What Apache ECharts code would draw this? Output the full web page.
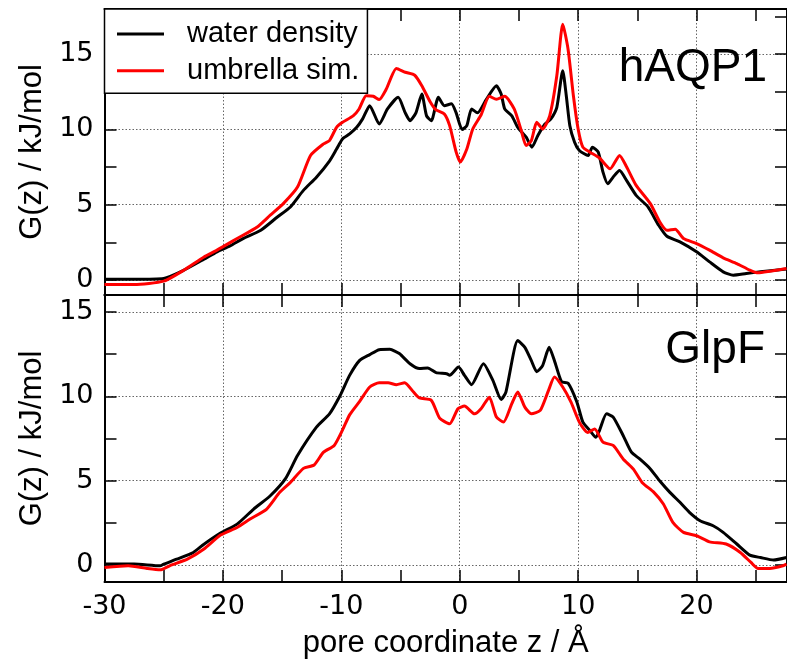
<!DOCTYPE html>
<html>
<head>
<meta charset="utf-8">
<script src="https://cdn.jsdelivr.net/npm/echarts@6/dist/echarts.min.js"></script>
<style>
html,body{margin:0;padding:0;background:#fff;}
#chart{width:787px;height:668px;}
</style>
</head>
<body>
<div id="chart"></div>
<script>
// ---- data ----
const zTopWater = [-30,-27.5,-25,-23.3,-21.6,-20.5,-19.4,-18.3,-16.8,-15.4,-14.3,-13.2,-12.1,-11.0,-10.4,-9.9,-9.3,-8.7,-8.2,-7.6,-6.8,-6.1,-5.2,-4.6,-4.2,-3.7,-3.2,-2.8,-2.4,-1.8,-1.3,-0.7,-0.3,0.2,0.6,1.0,1.5,2.25,3.1,3.5,3.8,4.4,4.9,5.6,6.1,6.6,7.2,7.7,8.2,8.7,9.0,9.3,9.7,10.1,10.85,11.2,11.7,12.1,12.5,12.95,13.5,14.1,14.9,15.9,16.8,17.5,18.6,20.0,21.1,22.25,23.1,24.2,25.4,27.6];
const gTopWater = [0.05,0.05,0.1,0.65,1.38,1.87,2.26,2.75,3.3,4.18,4.85,5.95,6.83,7.9,8.7,9.37,9.7,10.14,10.7,11.58,10.36,11.36,12.13,11.1,10.58,11.1,12.35,10.9,10.58,12.13,11.58,11.7,11.1,9.99,10.25,11.36,11.1,12.0,12.9,12.35,11.36,10.9,10.14,9.5,8.82,9.6,10.36,10.7,11.47,13.9,12.24,10.25,9.15,8.6,8.27,8.82,8.49,7.16,6.39,6.83,7.27,6.6,5.62,4.85,3.63,2.9,2.53,1.87,1.2,0.54,0.32,0.43,0.54,0.72];

const zTopUmb = [-30,-27.5,-25,-23.3,-21.6,-20.5,-18.8,-17.1,-16.0,-14.9,-13.7,-12.6,-11.5,-11.0,-10.4,-9.9,-9.0,-8.5,-7.9,-7.3,-6.8,-6.2,-5.35,-4.6,-3.8,-3.2,-2.5,-2.0,-1.3,-0.85,-0.3,0.05,0.6,1.1,1.8,2.5,3.1,3.8,4.6,5.2,5.6,6.05,6.5,7.0,7.6,8.2,8.7,9.15,9.6,10.0,10.4,11.0,11.8,12.7,13.5,14.1,14.9,16.1,16.9,17.5,18.2,18.9,20.0,21.1,22.25,23.4,24.5,25.2,26.2,27.6];
const gTopUmb = [-0.3,-0.3,-0.08,0.65,1.53,1.98,2.75,3.52,4.3,5.07,6.17,8.27,9.04,9.26,10.14,10.47,10.9,11.36,12.24,12.2,11.98,12.68,14.05,13.8,13.6,12.9,11.84,11.3,11.03,10.25,8.49,7.83,8.7,10.03,10.96,12.2,12.0,12.2,11.36,9.92,8.93,9.26,10.47,10.03,10.9,13.56,16.99,15.33,12.24,10.03,8.82,8.49,8.1,7.38,8.27,7.5,6.28,5.07,3.85,3.3,3.37,2.75,2.42,1.98,1.47,1.09,0.65,0.47,0.58,0.76];

const zBotWater = [-30,-27.5,-25.3,-25.0,-23.9,-22.5,-21.6,-20.2,-18.8,-17.4,-16.0,-14.7,-13.7,-12.1,-11.0,-10.1,-9.3,-8.45,-7.6,-6.8,-5.9,-5.1,-4.2,-3.4,-2.7,-2.0,-1.1,-0.85,-0.1,0.4,1.0,2.0,2.8,3.5,3.9,4.9,5.5,6.05,6.5,7.0,7.55,8.0,8.6,9.15,9.9,10.4,11.0,11.5,11.8,12.4,12.96,13.8,14.5,15.2,16.1,16.9,17.75,18.6,19.4,20.3,21.4,22.25,23.4,24.5,25.4,26.5,27.6];
const gBotWater = [0.06,0.06,-0.04,0.06,0.35,0.75,1.24,1.9,2.43,3.32,4.11,5.14,6.49,8.17,8.96,10.05,11.24,12.13,12.47,12.76,12.78,12.53,11.93,11.64,11.68,11.4,11.34,11.24,11.73,11.24,10.69,11.93,10.94,9.81,10.25,13.3,12.9,12.11,11.46,11.82,12.9,12.11,10.86,10.78,9.65,8.47,7.97,7.57,7.97,8.96,8.77,7.68,6.69,6.29,5.7,4.98,4.31,3.72,3.13,2.63,2.33,1.94,1.25,0.59,0.45,0.3,0.45];

const zBotUmb = [-30,-28,-26.4,-25.3,-24.5,-23.0,-21.6,-20.2,-18.8,-17.7,-16.3,-15.2,-14.3,-13.2,-12.3,-11.5,-10.6,-9.9,-9.3,-8.45,-7.6,-6.8,-6.05,-5.35,-4.65,-3.9,-3.4,-2.4,-1.7,-0.85,-0.15,0.4,1.25,1.8,2.5,3.1,3.7,4.4,4.9,5.5,6.05,6.8,7.5,8.0,8.7,9.4,10.1,10.8,11.4,12.1,12.96,13.8,14.65,15.4,16.4,17.2,18.0,18.9,20.0,21.1,22.5,23.7,24.6,25.2,26.2,27.3,27.6];
const gBotUmb = [-0.14,-0.04,-0.2,-0.28,-0.04,0.35,0.95,1.78,2.23,2.73,3.32,4.31,4.9,5.73,5.93,6.69,7.09,8.0,8.9,9.7,10.55,10.8,10.8,10.69,10.8,10.25,9.9,9.76,8.71,8.37,9.26,9.42,8.96,9.26,9.95,8.77,8.47,9.56,10.25,9.36,8.96,9.16,10.35,11.14,10.55,9.65,8.47,7.86,8.06,7.28,7.09,6.29,5.7,4.9,4.31,3.62,2.53,1.94,1.74,1.38,1.25,0.75,0.16,-0.2,-0.2,-0.04,0.06];

const seriesNames = ['water density', 'umbrella sim.'];
const panelNames = ['hAQP1', 'GlpF'];
const xTicks = [-30,-25,-20,-15,-10,-5,0,5,10,15,20,25];
const xLabels = [-30,-20,-10,0,10,20];
const xGrid = [-20,-10,0,10,20];
const yTicksTop = [0,2.5,5,7.5,10,12.5,15,17.5];
const yTicksBot = [0,2.5,5,7.5,10,12.5,15];
const yLabels = [0,5,10,15];
const yGrid = [0,5,10,15];
const xRange = [-30, 27.64];
const yRangeTop = [-1, 18];
const yRangeBot = [-1, 16];
const yTitle = 'G(z) / kJ/mol';
const xTitle = 'pore coordinate z / Å';

// ---- helpers ----
const pairs = (xs, ys) => xs.map((x, i) => [x, ys[i]]);
const SANS = '"Liberation Sans", Arial, Helvetica, sans-serif';
const TICKFONT = '"DejaVu Sans", sans-serif';
const gridDot = { show: true, lineStyle: { color: '#666', width: 1, type: [1.5, 2] } };

function xAxes(gi, withLabels) {
  const base = { type: 'value', gridIndex: gi, min: xRange[0], max: xRange[1] };
  return [
    Object.assign({}, base, {
      position: 'bottom',
      axisLine: { show: true, onZero: false, lineStyle: { color: '#000', width: 2 } },
      axisTick: { show: true, inside: true, length: 12, customValues: xTicks, lineStyle: { color: '#000', width: 1.5 } },
      axisLabel: withLabels ? { show: true, customValues: xLabels, color: '#000', fontSize: 27, fontFamily: TICKFONT, margin: 11 } : { show: false },
      splitLine: { show: false },
      name: withLabels ? xTitle : '',
      nameLocation: 'middle', nameGap: 46,
      nameTextStyle: { color: '#000', fontSize: 31, fontFamily: SANS }
    }),
    Object.assign({}, base, {
      position: 'top',
      axisLine: { show: true, onZero: false, lineStyle: { color: '#000', width: 2 } },
      axisTick: { show: true, inside: true, length: 12, customValues: xTicks, lineStyle: { color: '#000', width: 1.5 } },
      axisLabel: { show: false },
      splitLine: { show: false }
    }),
    Object.assign({}, base, {
      position: 'bottom',
      axisLine: { show: false },
      axisTick: { show: false, customValues: xGrid },
      axisLabel: { show: false },
      splitLine: gridDot
    })
  ];
}
function yAxes(gi, range, ticks) {
  const base = { type: 'value', gridIndex: gi, min: range[0], max: range[1] };
  return [
    Object.assign({}, base, {
      position: 'left',
      axisLine: { show: true, onZero: false, lineStyle: { color: '#000', width: 2 } },
      axisTick: { show: true, inside: true, length: 12, customValues: ticks, lineStyle: { color: '#000', width: 1.5 } },
      axisLabel: { show: true, customValues: yLabels, color: '#000', fontSize: 27, fontFamily: TICKFONT, margin: 11 },
      splitLine: { show: false },
      name: yTitle, nameLocation: 'middle', nameGap: 55,
      nameTextStyle: { color: '#000', fontSize: 31, fontFamily: SANS }
    }),
    Object.assign({}, base, {
      position: 'right',
      axisLine: { show: true, onZero: false, lineStyle: { color: '#000', width: 2 } },
      axisTick: { show: true, inside: true, length: 12, customValues: ticks, lineStyle: { color: '#000', width: 1.5 } },
      axisLabel: { show: false },
      splitLine: { show: false }
    }),
    Object.assign({}, base, {
      position: 'left',
      axisLine: { show: false },
      axisTick: { show: false, customValues: yGrid },
      axisLabel: { show: false },
      splitLine: gridDot
    })
  ];
}
function line(name, data, color, xi, yi) {
  return {
    type: 'line', name: name, data: data, xAxisIndex: xi, yAxisIndex: yi,
    symbol: 'none', showSymbol: false, smooth: 0.2, animation: false,
    lineStyle: { color: color, width: 3, join: 'round' }, itemStyle: { color: color },
    z: color === '#ff0000' ? 3 : 2
  };
}

const chart = echarts.init(document.getElementById('chart'), null, { renderer: 'canvas' });
chart.setOption({
  animation: false,
  backgroundColor: '#fff',
  title: [
    { text: panelNames[0], right: 20, top: 45, padding: 0, textStyle: { fontSize: 46, fontWeight: 'normal', fontFamily: SANS, color: '#000' } },
    { text: panelNames[1], right: 22, top: 327, padding: 0, textStyle: { fontSize: 46, fontWeight: 'normal', fontFamily: SANS, color: '#000' } }
  ],
  legend: {
    data: seriesNames.map(n => ({ name: n, icon: 'rect' })),
    orient: 'vertical', left: 104.5, top: 9,
    backgroundColor: '#fff', borderColor: '#000', borderWidth: 1.5,
    padding: [10.5, 8, 8, 12.5],
    itemWidth: 47, itemHeight: 3, itemGap: 7.7,
    textStyle: { fontSize: 29, fontFamily: SANS, color: '#000', lineHeight: 29, padding: [0, 0, 0, 18] },
    selectedMode: false, z: 10
  },
  grid: [
    { left: 104.5, top: 9, width: 682.5, height: 286, containLabel: false },
    { left: 104.5, top: 295, width: 682.5, height: 287, containLabel: false }
  ],
  xAxis: xAxes(0, false).concat(xAxes(1, true)),
  yAxis: yAxes(0, yRangeTop, yTicksTop).concat(yAxes(1, yRangeBot, yTicksBot)),
  series: [
    line(seriesNames[0], pairs(zTopWater, gTopWater), '#000000', 0, 0),
    line(seriesNames[1], pairs(zTopUmb, gTopUmb), '#ff0000', 0, 0),
    line(seriesNames[0], pairs(zBotWater, gBotWater), '#000000', 3, 3),
    line(seriesNames[1], pairs(zBotUmb, gBotUmb), '#ff0000', 3, 3)
  ]
});
</script>
</body>
</html>
